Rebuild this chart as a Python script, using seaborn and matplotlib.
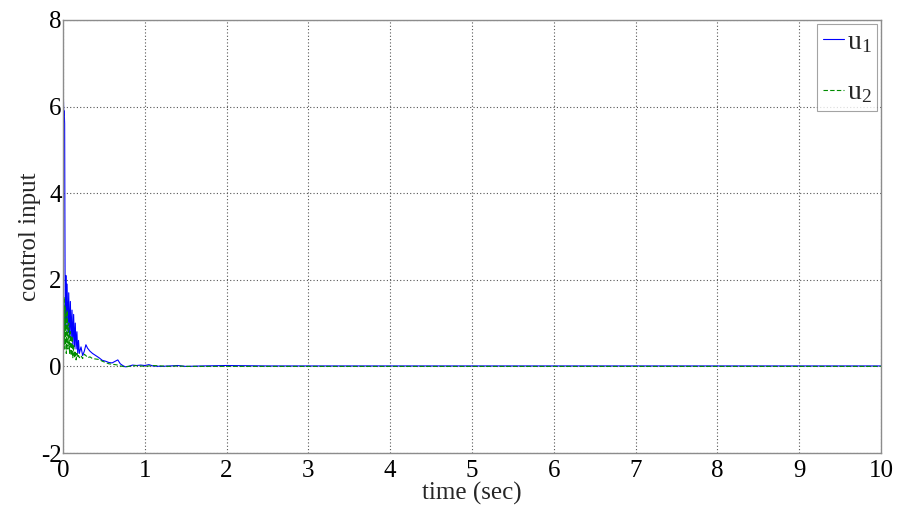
import matplotlib
matplotlib.use("Agg")
import matplotlib.pyplot as plt
import seaborn as sns
import pandas as pd

# Simulation time stamps (s) and the two control signals
time_s = [0.0, 0.005, 0.01, 0.015, 0.02, 0.025, 0.03, 0.035, 0.04, 0.05,
          0.06, 0.07, 0.08, 0.09, 0.10, 0.11, 0.12, 0.13, 0.14, 0.15,
          0.16, 0.17, 0.18, 0.19, 0.20, 0.22, 0.24, 0.26, 0.28, 0.30,
          0.33, 0.36, 0.40, 0.44, 0.48, 0.52, 0.56, 0.60, 0.64, 0.67,
          0.70, 0.73, 0.76, 0.80, 0.85, 0.90, 0.95, 1.00, 1.05, 1.10,
          1.20, 1.30, 1.40, 1.50, 1.70, 2.00, 2.50, 3.00, 4.00, 5.00,
          6.00, 7.00, 8.00, 9.00, 10.0]

u1 = [4.6, 6.2, 5.8, 5.9, 5.6, 2.2, 0.9, 2.1, 1.0, 1.9,
      0.8, 1.7, 0.7, 1.5, 0.6, 1.3, 0.5, 1.2, 0.45, 1.0,
      0.4, 0.8, 0.3, 0.6, 0.3, 0.45, 0.25, 0.35, 0.5, 0.42,
      0.35, 0.30, 0.25, 0.20, 0.14, 0.12, 0.09, 0.08, 0.12, 0.15,
      0.06, 0.02, -0.01, 0.0, 0.03, 0.02, 0.03, 0.02, 0.04, 0.01,
      0.0, 0.01, 0.02, 0.0, 0.01, 0.02, 0.01, 0.01, 0.01, 0.01,
      0.01, 0.01, 0.01, 0.01, 0.01]

u2 = [0.2, 1.8, 0.6, 1.6, 0.4, 1.4, 0.5, 1.2, 0.3, 1.3,
      0.4, 1.0, 0.3, 0.8, 0.25, 0.7, 0.2, 0.5, 0.2, 0.35,
      0.15, 0.3, 0.2, 0.25, 0.2, 0.25, 0.18, 0.28, 0.25, 0.2,
      0.22, 0.18, 0.17, 0.16, 0.12, 0.09, 0.06, 0.05, 0.04, 0.03,
      0.01, 0.0, -0.01, 0.0, 0.01, 0.02, 0.01, 0.0, 0.01, 0.02,
      0.01, 0.0, 0.01, 0.0, 0.0, 0.0, 0.0, 0.0, 0.0, 0.0,
      0.0, 0.0, 0.0, 0.0, 0.0]

x_ticks = [0, 1, 2, 3, 4, 5, 6, 7, 8, 9, 10]
y_ticks = [-2, 0, 2, 4, 6, 8]

df = pd.DataFrame({"t": time_s, "u1": u1, "u2": u2})

sns.set_style("white")
plt.rcParams["font.family"] = ["Liberation Serif", "DejaVu Serif"]
plt.rcParams["mathtext.fontset"] = "custom"
plt.rcParams["mathtext.rm"] = "Liberation Serif"
plt.rcParams["mathtext.it"] = "Liberation Serif"

fig = plt.figure(figsize=(9.0, 5.11), dpi=100)
ax = fig.add_axes([0.0700, 0.1135, 0.9090, 0.8475])

sns.lineplot(data=df, x="t", y="u1", ax=ax, color=(0.0, 0.0, 1.0),
             linewidth=0.8, estimator=None, sort=False,
             label=r"$\mathrm{u_1}$")
sns.lineplot(data=df, x="t", y="u2", ax=ax, color=(0.0, 0.55, 0.0),
             linewidth=0.8, linestyle=(0, (4, 2)), estimator=None,
             sort=False, label=r"$\mathrm{u_2}$")

ax.set_xlim(0, 10)
ax.set_ylim(-2, 8)
ax.set_xticks(x_ticks)
ax.set_yticks(y_ticks)
ax.set_xticklabels([str(v) for v in x_ticks])
ax.set_yticklabels([str(v) for v in y_ticks])

ax.grid(True, color="#555555", linestyle=(0, (1, 2)), linewidth=0.8)
ax.set_axisbelow(True)
for sp in ax.spines.values():
    sp.set_color("#8c8c8c")
    sp.set_linewidth(1.0)
    sp.set_visible(True)

ax.tick_params(axis="both", direction="in", length=4, width=0.8,
               colors="#8c8c8c", labelcolor="black", labelsize=18)
ax.tick_params(axis="x", pad=5)
ax.tick_params(axis="y", pad=1)

ax.set_xlabel("time (sec)", fontsize=18, labelpad=0)
ax.set_ylabel("control input", fontsize=18, labelpad=0)

leg = ax.legend(loc="upper right", fontsize=20, frameon=True,
                fancybox=False, handlelength=0.75, handletextpad=0.1,
                labelspacing=0.9, borderpad=0.2, borderaxespad=0.15)
leg.get_frame().set_edgecolor("#8c8c8c")
leg.get_frame().set_linewidth(0.8)

fig.savefig("out.png", dpi=100, facecolor="white")
